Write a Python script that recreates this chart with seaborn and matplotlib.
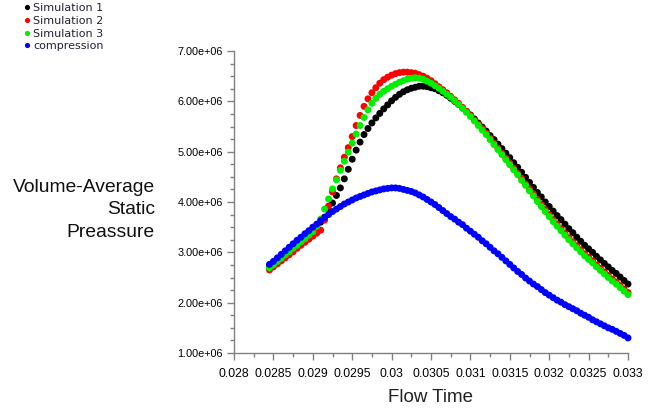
import matplotlib
matplotlib.use("Agg")
import matplotlib.pyplot as plt
import seaborn as sns
import pandas as pd
from matplotlib.ticker import MultipleLocator, FuncFormatter

# ---------------- data (pressure in units of 1e6) ----------------
TIME_US = [28450, 28500, 28550, 28600, 28650, 28700, 28750, 28800, 28850, 28900,
           28950, 29000, 29050, 29100, 29150, 29200, 29250, 29300, 29350, 29400,
           29450, 29500, 29550, 29600, 29650, 29700, 29750, 29800, 29850, 29900,
           29950, 30000, 30050, 30100, 30150, 30200, 30250, 30300, 30350, 30400,
           30450, 30500, 30550, 30600, 30650, 30700, 30750, 30800, 30850, 30900,
           30950, 31000, 31050, 31100, 31150, 31200, 31250, 31300, 31350, 31400,
           31450, 31500, 31550, 31600, 31650, 31700, 31750, 31800, 31850, 31900,
           31950, 32000, 32050, 32100, 32150, 32200, 32250, 32300, 32350, 32400,
           32450, 32500, 32550, 32600, 32650, 32700, 32750, 32800, 32850, 32900,
           32950, 33000]

SIM1 = [2.72, 2.78, 2.85, 2.92, 2.99, 3.06, 3.12, 3.19, 3.26, 3.33,
        3.40, 3.46, 3.53, 3.60, 3.70, 3.84, 3.98, 4.13, 4.28, 4.46,
        4.65, 4.85, 5.03, 5.19, 5.34, 5.46, 5.57, 5.67, 5.76, 5.85,
        5.93, 6.01, 6.08, 6.14, 6.19, 6.23, 6.26, 6.28, 6.30, 6.30,
        6.29, 6.27, 6.25, 6.21, 6.17, 6.12, 6.06, 6.00, 5.94, 5.87,
        5.80, 5.73, 5.65, 5.57, 5.49, 5.41, 5.32, 5.24, 5.15, 5.06,
        4.97, 4.88, 4.78, 4.69, 4.59, 4.49, 4.39, 4.29, 4.19, 4.10,
        4.00, 3.91, 3.82, 3.73, 3.65, 3.56, 3.47, 3.39, 3.30, 3.22,
        3.14, 3.07, 3.00, 2.92, 2.85, 2.78, 2.71, 2.64, 2.58, 2.51,
        2.44, 2.37]

SIM2 = [2.65, 2.71, 2.77, 2.83, 2.89, 2.95, 3.01, 3.08, 3.14, 3.20,
        3.26, 3.32, 3.38, 3.44, 3.64, 3.92, 4.20, 4.46, 4.68, 4.89,
        5.08, 5.30, 5.52, 5.72, 5.90, 6.05, 6.17, 6.27, 6.36, 6.43,
        6.48, 6.52, 6.55, 6.57, 6.58, 6.58, 6.57, 6.56, 6.53, 6.50,
        6.46, 6.41, 6.35, 6.29, 6.23, 6.17, 6.10, 6.03, 5.96, 5.88,
        5.80, 5.72, 5.63, 5.55, 5.46, 5.37, 5.27, 5.17, 5.07, 4.97,
        4.87, 4.77, 4.67, 4.57, 4.47, 4.36, 4.26, 4.16, 4.05, 3.95,
        3.85, 3.75, 3.65, 3.56, 3.47, 3.38, 3.29, 3.21, 3.13, 3.05,
        2.97, 2.90, 2.83, 2.75, 2.68, 2.61, 2.54, 2.47, 2.41, 2.34,
        2.27, 2.20]

SIM3 = [2.69, 2.75, 2.82, 2.88, 2.95, 3.01, 3.08, 3.14, 3.21, 3.27,
        3.34, 3.41, 3.52, 3.66, 3.86, 4.06, 4.26, 4.44, 4.63, 4.81,
        4.99, 5.17, 5.35, 5.52, 5.68, 5.83, 5.96, 6.06, 6.14, 6.20,
        6.25, 6.30, 6.34, 6.38, 6.41, 6.44, 6.46, 6.47, 6.46, 6.44,
        6.40, 6.36, 6.31, 6.26, 6.20, 6.14, 6.08, 6.01, 5.94, 5.86,
        5.78, 5.70, 5.61, 5.52, 5.43, 5.34, 5.24, 5.14, 5.04, 4.94,
        4.84, 4.74, 4.64, 4.54, 4.43, 4.33, 4.22, 4.12, 4.01, 3.91,
        3.81, 3.71, 3.61, 3.52, 3.43, 3.34, 3.25, 3.17, 3.09, 3.01,
        2.93, 2.86, 2.79, 2.71, 2.64, 2.57, 2.50, 2.43, 2.37, 2.30,
        2.23, 2.16]

COMPRESSION = [2.76, 2.82, 2.89, 2.96, 3.03, 3.10, 3.17, 3.24, 3.30, 3.37,
               3.43, 3.50, 3.56, 3.63, 3.69, 3.75, 3.81, 3.86, 3.91, 3.96,
               4.00, 4.04, 4.08, 4.11, 4.14, 4.17, 4.20, 4.22, 4.24, 4.26,
               4.27, 4.28, 4.28, 4.27, 4.25, 4.23, 4.21, 4.18, 4.14, 4.10,
               4.05, 4.00, 3.95, 3.89, 3.83, 3.77, 3.71, 3.66, 3.60, 3.55,
               3.48, 3.42, 3.36, 3.30, 3.23, 3.17, 3.10, 3.03, 2.97, 2.90,
               2.83, 2.76, 2.69, 2.62, 2.56, 2.49, 2.43, 2.37, 2.32, 2.26,
               2.20, 2.15, 2.10, 2.05, 2.01, 1.96, 1.92, 1.88, 1.84, 1.79,
               1.75, 1.71, 1.66, 1.62, 1.58, 1.54, 1.50, 1.47, 1.43, 1.39,
               1.35, 1.30]

SERIES_NAMES = ["Simulation 1", "Simulation 2", "Simulation 3", "compression"]
SERIES_COLORS = ["#000000", "#ff0000", "#00ee00", "#0000ff"]
X_TICKS = [0.028, 0.0285, 0.029, 0.0295, 0.03, 0.0305, 0.031, 0.0315, 0.032, 0.0325, 0.033]
Y_TICKS = [1e6, 2e6, 3e6, 4e6, 5e6, 6e6, 7e6]

# ---------------- build long table ----------------
flow_time = [t / 1e6 for t in TIME_US]
frames = []
for name, vals in zip(SERIES_NAMES, [SIM1, SIM2, SIM3, COMPRESSION]):
    frames.append(pd.DataFrame({"Flow Time": flow_time,
                                "Pressure": [v * 1e6 for v in vals],
                                "series": name}))
df = pd.concat(frames, ignore_index=True)

sns.set_theme(style="white")
plt.rcParams["font.family"] = ["Liberation Sans", "DejaVu Sans"]

W, H = 661, 409
fig = plt.figure(figsize=(W / 100, H / 100), dpi=100)
fig.patch.set_facecolor("white")
ax = fig.add_axes([234 / W, 1 - 353 / H, (628 - 234) / W, (353 - 51) / H])

sns.scatterplot(data=df, x="Flow Time", y="Pressure", hue="series",
                hue_order=SERIES_NAMES, palette=SERIES_COLORS,
                s=25, linewidth=0, ax=ax, legend=True, clip_on=False)

ax.set_xlim(X_TICKS[0], X_TICKS[-1])
ax.set_ylim(Y_TICKS[0], Y_TICKS[-1])
ax.set_xticks(X_TICKS)
ax.set_yticks(Y_TICKS)
ax.xaxis.set_minor_locator(MultipleLocator(0.00025))
ax.yaxis.set_minor_locator(MultipleLocator(0.25e6))
ax.xaxis.set_major_formatter(FuncFormatter(lambda v, p: f"{round(v, 6):g}"))
ax.yaxis.set_major_formatter(FuncFormatter(lambda v, p: f"{v:.2e}"))

for side in ["top", "right"]:
    ax.spines[side].set_visible(False)
for side in ["left", "bottom"]:
    ax.spines[side].set_color("#808080")
    ax.spines[side].set_linewidth(1.0)
ax.set_facecolor("white")
ax.grid(False)

ax.tick_params(axis="both", which="major", direction="out", length=5, width=1,
               color="#808080", labelcolor="#000000")
ax.tick_params(axis="both", which="minor", direction="out", length=3, width=1,
               color="#808080")
ax.tick_params(axis="x", which="major", labelsize=8.8, pad=6)
ax.tick_params(axis="y", which="major", labelsize=7.8, pad=3)
ax.tick_params(axis="both", which="both", bottom=True, left=True)

ax.set_xlabel("Flow Time", fontsize=13.5, color="#222222", labelpad=6)
ax.set_ylabel("")

fig.text(155 / W, 1 - 210 / H, "Volume-Average\nStatic\nPreassure",
         ha="right", va="center", multialignment="right",
         fontsize=13.9, color="#111111", linespacing=1.42)

handles, labels = ax.get_legend_handles_labels()
ax.legend(handles, labels, loc="upper left",
          bbox_to_anchor=(24 / W, 1 - 3 / H), bbox_transform=fig.transFigure,
          frameon=False, prop={"family": "DejaVu Sans", "size": 8},
          handlelength=0.5, handletextpad=0.3, labelspacing=0.25,
          borderpad=0, borderaxespad=0, markerscale=0.75, labelcolor="#222233")

fig.savefig("out.png", dpi=100, facecolor="white")
